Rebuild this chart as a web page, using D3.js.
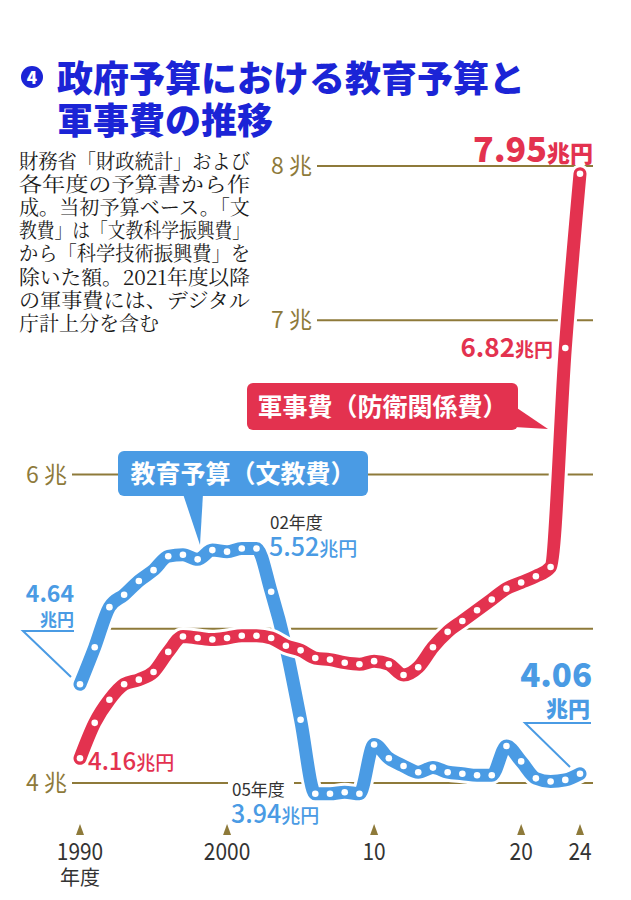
<!DOCTYPE html>
<html>
<head>
<meta charset="utf-8">
<script src="https://cdn.jsdelivr.net/npm/d3@7"></script>
<style>
  body { margin: 0; background: #fff; }
  svg { display: block; }
</style>
</head>
<body>
<div id="chart"></div>
<script>
// 年度
const years = [1990, 1991, 1992, 1993, 1994, 1995, 1996, 1997, 1998, 1999,
  2000, 2001, 2002, 2003, 2004, 2005, 2006, 2007, 2008, 2009,
  2010, 2011, 2012, 2013, 2014, 2015, 2016, 2017, 2018, 2019,
  2020, 2021, 2022, 2023, 2024];
// 教育予算（文教費）兆円
const education = [4.64, 4.88, 5.14, 5.22, 5.31, 5.38, 5.47, 5.48, 5.45, 5.51,
  5.50, 5.52, 5.52, 5.24, 4.88, 4.41, 3.93, 3.93, 3.94, 3.93,
  4.25, 4.16, 4.11, 4.07, 4.10, 4.07, 4.06, 4.05, 4.05, 4.24,
  4.14, 4.03, 4.01, 4.02, 4.06];
// 軍事費（防衛関係費）兆円
const military = [4.16, 4.39, 4.54, 4.64, 4.67, 4.72, 4.85, 4.95, 4.94, 4.93,
  4.94, 4.955, 4.955, 4.94, 4.89, 4.86, 4.81, 4.80, 4.78, 4.77,
  4.79, 4.77, 4.70, 4.75, 4.88, 4.98, 5.05, 5.12, 5.19, 5.26,
  5.30, 5.34, 5.40, 6.82, 7.95];
// 目盛り
const yTicks = [4, 5, 6, 7, 8];
const yTickLabels = ["4 兆", "", "6 兆", "7 兆", "8 兆"];
const xTicks = [1990, 2000, 2010, 2020, 2024];
const xTickLabels = ["1990", "2000", "10", "20", "24"];
const noteLines = [
  "財務省「財政統計」および",
  "各年度の予算書から作",
  "成。当初予算ベース。「文",
  "教費」は「文教科学振興費」",
  "から「科学技術振興費」を",
  "除いた額。2021年度以降",
  "の軍事費には、デジタル",
  "庁計上分を含む"
];

const BLUE = "#4a9be4", RED = "#e3324f", OLIVE = "#8e7a3a", NAVY = "#1b24d6";
const SANS = "'Noto Sans CJK JP', 'Noto Sans', sans-serif";

const width = 631, height = 900;
const svg = d3.select("#chart").append("svg")
  .attr("width", width).attr("height", height)
  .attr("viewBox", `0 0 ${width} ${height}`);

const x = d3.scaleLinear().domain([1990, 2024]).range([80, 580]);
const y = d3.scaleLinear().domain([4, 8]).range([783, 166]);

// タイトル
svg.append("circle").attr("cx", 32).attr("cy", 77).attr("r", 11).attr("fill", NAVY);
svg.append("text").attr("x", 32).attr("y", 83.5).attr("text-anchor", "middle")
  .attr("font-family", SANS).attr("font-weight", 900).attr("font-size", 17)
  .attr("fill", "#fff").text("4");
const title = svg.append("text").attr("font-family", SANS).attr("font-weight", 900)
  .attr("font-size", 36).attr("fill", NAVY);
title.append("tspan").attr("x", 57).attr("y", 92).text("政府予算における教育予算と");
title.append("tspan").attr("x", 57).attr("y", 134).text("軍事費の推移");

// 注記
svg.append("g").selectAll("text").data(noteLines).join("text")
  .attr("x", 19).attr("y", (d, i) => 169 + i * 23.1)
  .attr("font-family", "'Noto Serif CJK JP', 'Noto Sans CJK JP', serif")
  .attr("font-size", 20).attr("fill", "#1a1a1a")
  .attr("textLength", (d, i) => i < noteLines.length - 1 ? 231 : null)
  .attr("lengthAdjust", "spacingAndGlyphs")
  .text(d => d);

// 目盛り線
const gridStart = v => (v >= 7 ? 317 : v === 5 ? 104 : 72);
svg.append("g").selectAll("line").data(yTicks).join("line")
  .attr("x1", d => gridStart(d)).attr("x2", 593)
  .attr("y1", d => y(d)).attr("y2", d => y(d))
  .attr("stroke", OLIVE).attr("stroke-width", 2);
svg.append("g").selectAll("text").data(yTicks).join("text")
  .attr("x", d => gridStart(d) - 5).attr("y", d => y(d) + 8)
  .attr("text-anchor", "end").attr("font-family", SANS).attr("font-size", 23)
  .attr("fill", OLIVE).text((d, i) => yTickLabels[i]);

// 横軸
svg.append("g").selectAll("path").data(xTicks).join("path")
  .attr("d", d => `M${x(d) - 4},835L${x(d)},824L${x(d) + 4},835Z`)
  .attr("fill", OLIVE);
svg.append("g").selectAll("text").data(xTicks).join("text")
  .attr("x", d => x(d) - xTickLabels[xTicks.indexOf(d)].length * 5.8).attr("y", 860)
  .attr("font-family", SANS).attr("font-size", 24).attr("fill", "#333")
  .attr("textLength", (d, i) => xTickLabels[i].length * 11.6)
  .attr("lengthAdjust", "spacingAndGlyphs")
  .text((d, i) => xTickLabels[i]);
svg.append("text").attr("x", x(1990)).attr("y", 885).attr("text-anchor", "middle")
  .attr("font-family", SANS).attr("font-size", 20).attr("fill", "#333").text("年度");

// 05年度の白抜き
svg.append("rect").attr("x", 228).attr("y", 776).attr("width", 66).attr("height", 22).attr("fill", "#fff");

// 折れ線
const line = d3.line().x((d, i) => x(years[i])).y(d => y(d)).curve(d3.curveMonotoneX);
function drawSeries(values, color) {
  const g = svg.append("g");
  g.append("path").attr("d", line(values)).attr("fill", "none")
    .attr("stroke", "#fff").attr("stroke-width", 19)
    .attr("stroke-linejoin", "round").attr("stroke-linecap", "round");
  g.append("path").attr("d", line(values)).attr("fill", "none")
    .attr("stroke", color).attr("stroke-width", 13)
    .attr("stroke-linejoin", "round").attr("stroke-linecap", "round");
  g.selectAll("circle").data(values).join("circle")
    .attr("cx", (d, i) => x(years[i])).attr("cy", d => y(d))
    .attr("r", 3.3).attr("fill", "#fff");
}
drawSeries(education, BLUE);
drawSeries(military, RED);

// 吹き出し
function callout(bx, by, bw, bh, tip, color, label) {
  const g = svg.append("g");
  g.append("path").attr("d", d3.line()(tip) + "Z").attr("fill", color);
  g.append("rect").attr("x", bx).attr("y", by).attr("width", bw).attr("height", bh)
    .attr("rx", 6).attr("fill", color);
  g.append("text").attr("x", bx + bw / 2).attr("y", by + bh / 2 + 9)
    .attr("text-anchor", "middle").attr("font-family", SANS).attr("font-weight", 700)
    .attr("font-size", 25).attr("fill", "#fff").text(label);
}
callout(118, 451, 250, 45, [[183, 494], [203, 494], [200, 545]], BLUE, "教育予算（文教費）");
callout(247, 383, 271, 47, [[514, 406], [548, 429], [514, 427]], RED, "軍事費（防衛関係費）");

// 数値ラベル
function valueLabel(px, py, num, unit, numSize, unitSize, color, weight, anchor) {
  const t = svg.append("text").attr("x", px).attr("y", py)
    .attr("text-anchor", anchor || "start").attr("font-family", SANS)
    .attr("font-weight", weight).attr("fill", color);
  t.append("tspan").attr("font-size", numSize).text(num);
  if (unit) t.append("tspan").attr("font-size", unitSize).text(unit);
  return t;
}
function smallNote(px, py, txt) {
  svg.append("text").attr("x", px).attr("y", py).attr("font-family", SANS)
    .attr("font-size", 17).attr("fill", "#333").text(txt);
}

valueLabel(593, 162, "7.95", "兆円", 34, 23, RED, 900, "end");
valueLabel(553, 357, "6.82", "兆円", 26, 19, RED, 700, "end");

smallNote(270, 529, "02年度");
valueLabel(269, 556, "5.52", "兆円", 25, 19, BLUE, 500);

smallNote(232, 796, "05年度");
valueLabel(231, 823, "3.94", "兆円", 25, 19, BLUE, 500);

valueLabel(88, 770, "4.16", "兆円", 24, 19, RED, 500);

valueLabel(74, 602, "4.64", null, 23, 0, BLUE, 700, "end");
valueLabel(74, 626, "兆円", null, 17, 0, BLUE, 700, "end");
svg.append("path").attr("d", d3.line()([[74, 631], [23, 631], [71, 677]]))
  .attr("fill", "none").attr("stroke", BLUE).attr("stroke-width", 2);

valueLabel(592, 687, "4.06", null, 33, 0, BLUE, 900, "end");
valueLabel(590, 717, "兆円", null, 22, 0, BLUE, 900, "end");
svg.append("path").attr("d", d3.line()([[591, 723], [525, 723], [570, 767]]))
  .attr("fill", "none").attr("stroke", BLUE).attr("stroke-width", 2);
</script>
</body>
</html>
